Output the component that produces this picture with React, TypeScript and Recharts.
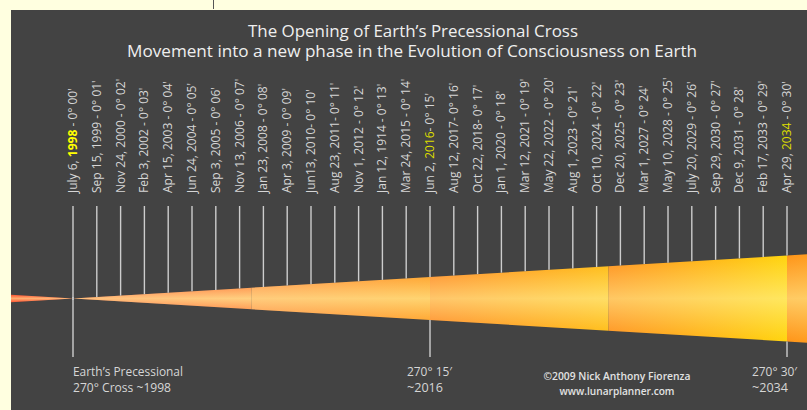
import { ComposedChart, Area, XAxis, YAxis, ReferenceLine } from 'recharts'

// arc minutes of the cross opening, one tick per minute
const tickMinutes = [0, 1, 2, 3, 4, 5, 6, 7, 8, 9, 10, 11, 12, 13, 14, 15, 16, 17, 18, 19, 20, 21, 22, 23, 24, 25, 26, 27, 28, 29, 30]

const tickLabels = [
  "July 6, 1998 - 0° 00'",
  "Sep 15, 1999 - 0° 01'",
  "Nov 24, 2000 - 0° 02'",
  "Feb 3, 2002 - 0° 03'",
  "Apr 15, 2003 - 0° 04'",
  "Jun 24, 2004 - 0° 05'",
  "Sep 3, 2005 - 0° 06'",
  "Nov 13, 2006 - 0° 07'",
  "Jan 23, 2008 - 0° 08'",
  "Apr 3, 2009 - 0° 09'",
  "Jun13, 2010- 0° 10'",
  "Aug 23, 2011- 0° 11'",
  "Nov 1, 2012 - 0° 12'",
  "Jan 12, 1914 - 0° 13'",
  "Mar 24, 2015 - 0° 14'",
  "Jun 2, 2016- 0° 15'",
  "Aug 12, 2017- 0° 16'",
  "Oct 22, 2018- 0° 17'",
  "Jan 1, 2020 - 0° 18'",
  "Mar 12, 2021 - 0° 19'",
  "May 22, 2022 - 0° 20'",
  "Aug 1, 2023 - 0° 21'",
  "Oct 10, 2024 - 0° 22'",
  "Dec 20, 2025 - 0° 23'",
  "Mar 1, 2027 - 0° 24'",
  "May 10, 2028 - 0° 25'",
  "July 20, 2029 - 0° 26'",
  "Sep 29, 2030 - 0° 27'",
  "Dec 9, 2031 - 0° 28'",
  "Feb 17, 2033 - 0° 29'",
  "Apr 29, 2034 - 0° 30'",
]

const highlightYears = ['1998', '2016', '2034']
const highlightColors = ['#ffff00', '#dede00', '#dede00']

// minutes that get a long marker line below the cone
const longMarkers = [0, 15, 30]

// cone outline: position (minutes) and half opening (minutes)
const coneMinutes = [-2.605, 0, 7.5, 15, 22.5, 30, 30.84]
const coneSpread = [2.605, 0, 7.5, 15, 22.5, 30, 30.84]

// colours along each cone segment (left, right)
const segmentColors = [
  ['#ff5533', '#ff6240'],
  ['#ff7a50', '#ffa058'],
  ['#ff9850', '#ffaa36'],
  ['#ff8c2a', '#ffc01e'],
  ['#ff8e1a', '#ffd40e'],
  ['#ff9418', '#ff9a1c'],
]

const Y_TOP = 64.53
const Y_BOTTOM = -40.81

const rows = coneMinutes.map((m, j) => {
  const row: Record<string, any> = { m }
  segmentColors.forEach((_, s) => {
    row[`s${s}`] = j === s || j === s + 1 ? [-coneSpread[j], coneSpread[j]] : null
  })
  return row
})

const font = '"Open Sans", "Noto Sans", sans-serif'

function DateTick(props: any) {
  const { x, y, payload } = props
  const idx = tickMinutes.indexOf(payload.value)
  const label = tickLabels[idx] ?? ''
  const hy = highlightYears.findIndex((yr) => label.includes(yr))
  let content: any = label
  if (hy >= 0) {
    const [a, b] = label.split(highlightYears[hy])
    content = [
      <tspan key="a">{a}</tspan>,
      <tspan key="y" fill={highlightColors[hy]} fontWeight={hy === 0 ? 700 : 400}>{highlightYears[hy]}</tspan>,
      <tspan key="b">{b}</tspan>,
    ]
  }
  return (
    <g transform={`translate(${x + 4},${y}) rotate(-90)`}>
      <text x={0} y={0} textAnchor="start" fill="#d6d6d6" fontSize={12} fontFamily={font}>
        {content}
      </text>
    </g>
  )
}

export default function App() {
  return (
    <div style={{ position: 'absolute', left: 0, top: 0, width: 807, height: 410, background: '#ffffe0', overflow: 'hidden' }}>
      <div style={{ position: 'absolute', left: 11, top: 10, width: 796, height: 400, background: '#434343' }} />
      <div style={{ position: 'absolute', left: 213, top: 0, width: 1, height: 9, background: '#555' }} />
      <div style={{ position: 'absolute', left: 0, top: 0 }}>
        <ComposedChart width={807} height={410} data={rows} margin={{ top: 10, right: 0, left: 11, bottom: 53 }}>
          <defs>
            {segmentColors.map(([c1, c2], i) => (
              <linearGradient key={i} id={`seg${i}`} x1="0" y1="0" x2="1" y2="0">
                <stop offset="0%" stopColor={c1} />
                <stop offset="100%" stopColor={c2} />
              </linearGradient>
            ))}
            <linearGradient id="shine" x1="0" y1="0" x2="0" y2="1">
              <stop offset="0%" stopColor="#fff6a0" stopOpacity={0} />
              <stop offset="50%" stopColor="#fff6a0" stopOpacity={0.55} />
              <stop offset="100%" stopColor="#fff6a0" stopOpacity={0} />
            </linearGradient>
          </defs>
          <XAxis
            dataKey="m"
            type="number"
            orientation="top"
            domain={[-2.605, 30.84]}
            allowDataOverflow
            ticks={tickMinutes}
            interval={0}
            tick={<DateTick />}
            tickSize={0}
            tickMargin={13}
            axisLine={false}
            tickLine={false}
            height={196}
          />
          <YAxis hide type="number" domain={[Y_BOTTOM, Y_TOP]} allowDataOverflow />
          {tickMinutes.map((m) => (
            <ReferenceLine
              key={`t${m}`}
              segment={[{ x: m, y: Y_TOP }, { x: m, y: m }]}
              stroke="#cdcdcd"
              strokeWidth={1.4}
            />
          ))}
          {segmentColors.map((_, i) => (
            <Area
              key={`b${i}`}
              dataKey={`s${i}`}
              type="linear"
              stroke="none"
              fill={`url(#seg${i})`}
              fillOpacity={1}
              dot={false}
              activeDot={false}
              isAnimationActive={false}
            />
          ))}
          {segmentColors.map((_, i) => (
            <Area
              key={`o${i}`}
              dataKey={`s${i}`}
              type="linear"
              stroke="none"
              fill="url(#shine)"
              fillOpacity={1}
              dot={false}
              activeDot={false}
              isAnimationActive={false}
            />
          ))}
          {longMarkers.map((m) => (
            <ReferenceLine
              key={`l${m}`}
              segment={[{ x: m, y: -m }, { x: m, y: Y_BOTTOM }]}
              stroke="#cdcdcd"
              strokeWidth={1.4}
            />
          ))}
          <ReferenceLine segment={[{ x: 0, y: 1 }, { x: 0, y: -1 }]} stroke="#cdcdcd" strokeWidth={1.4} />
        </ComposedChart>
      </div>
      <svg width={807} height={410} style={{ position: 'absolute', left: 0, top: 0, pointerEvents: 'none' }}>
        <g fontFamily={font} fill="#efefef">
          <text x={413} y={37} textAnchor="middle" fontSize={16} textLength={330} lengthAdjust="spacingAndGlyphs">
            The Opening of Earth’s Precessional Cross
          </text>
          <text x={412} y={57} textAnchor="middle" fontSize={16} textLength={570} lengthAdjust="spacingAndGlyphs">
            Movement into a new phase in the Evolution of Consciousness on Earth
          </text>
        </g>
        <g fontFamily={font} fill="#d6d6d6" fontSize={12}>
          <text x={73} y={376} textLength={110} lengthAdjust="spacingAndGlyphs">Earth’s Precessional</text>
          <text x={73} y={392} textLength={98} lengthAdjust="spacingAndGlyphs">270° Cross ~1998</text>
          <text x={407} y={376} textLength={45} lengthAdjust="spacingAndGlyphs">270° 15′</text>
          <text x={407} y={392} textLength={36} lengthAdjust="spacingAndGlyphs">~2016</text>
          <text x={752} y={376} textLength={45} lengthAdjust="spacingAndGlyphs">270° 30′</text>
          <text x={752} y={392} textLength={36} lengthAdjust="spacingAndGlyphs">~2034</text>
        </g>
        <g fontFamily={font} fill="#e2e2e2" fontSize={10} fontWeight={600} textAnchor="middle">
          <text x={617} y={380} textLength={147} lengthAdjust="spacingAndGlyphs">©2009 Nick Anthony Fiorenza</text>
          <text x={617} y={395} textLength={115} lengthAdjust="spacingAndGlyphs">www.lunarplanner.com</text>
        </g>
      </svg>
    </div>
  )
}
